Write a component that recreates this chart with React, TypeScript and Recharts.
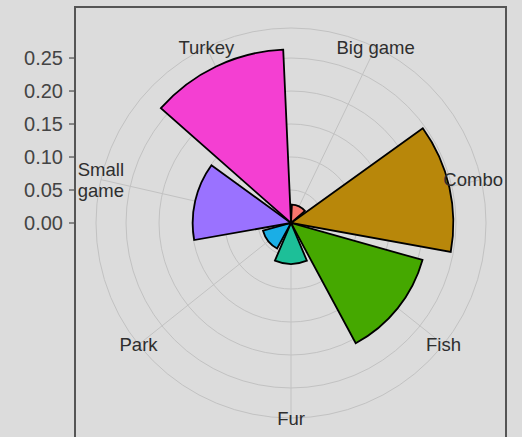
import React from 'react';
import {
    RadialBarChart,
    RadialBar,
    PolarAngleAxis,
    PolarRadiusAxis,
    PolarGrid,
    Cell,
    LineChart,
    YAxis,
} from 'recharts';

// shares of hunting licence types
const categories = ['Big game', 'Combo', 'Fish', 'Fur', 'Park', 'Small\ngame', 'Turkey'];
const shares = [0.028, 0.246, 0.207, 0.062, 0.044, 0.149, 0.263];
const colors = ['#F8766D', '#B8870A', '#45A800', '#1DBF98', '#1AAEE6', '#9A72FF', '#F43FD2'];
const axisTicks = [0, 0.05, 0.1, 0.15, 0.2, 0.25];
// ggplot draws one extra ring where the theta labels sit
const RMAX = 0.2955;
const gridTicks = [0.05, 0.1, 0.15, 0.2, 0.25, RMAX];

// numeric slot per category so the bars sit centred on the angle ticks
const slots = categories.map((_, i) => i);
const data = categories.map((name, i) => ({ name, slot: slots[i], value: shares[i] }));

const PANEL_W = 429;
const CX = 215;
const CY = 215;
const OUTER = 195;
const HALF_SLICE = 180 / categories.length;
const FONT = 18.5;

const AngleTick = (props: any) => {
    const { x, y, payload } = props;
    const dx = x - CX;
    const dy = y - CY;
    const d = Math.hypot(dx, dy) || 1;
    let px = CX + (dx / d) * OUTER;
    const py = CY + (dy / d) * OUTER;
    const label = categories[payload.value] ?? '';
    const lines = label.split('\n');
    const lh = 21;
    // keep labels inside the panel instead of clipping them
    const approxW = Math.max(...lines.map((l) => l.length)) * FONT * 0.56;
    let anchor: 'middle' | 'end' = 'middle';
    if (px + approxW / 2 > PANEL_W - 2) {
        px = PANEL_W - 2;
        anchor = 'end';
    }
    return (
        <text
            x={px}
            y={py}
            textAnchor={anchor}
            fill="#2E2E2E"
            fontSize={FONT}
            fontFamily="Liberation Sans, Arial, sans-serif"
        >
            {lines.map((l, i) => (
                <tspan
                    key={i}
                    x={px}
                    dy={i === 0 ? -((lines.length - 1) * lh) / 2 + 6.5 : lh}
                >
                    {l}
                </tspan>
            ))}
        </text>
    );
};

export default function App() {
    return (
        <div
            style={{
                position: 'absolute',
                left: 0,
                top: 0,
                width: 522,
                height: 437,
                background: '#DCDCDC',
                overflow: 'hidden',
            }}
        >
            <div style={{ position: 'absolute', left: 0, top: 0 }}>
                <LineChart
                    width={80}
                    height={437}
                    data={data}
                    margin={{ top: 28, right: 0, bottom: 214, left: 0 }}
                >
                    <YAxis
                        type="number"
                        domain={[0, RMAX]}
                        ticks={axisTicks}
                        allowDataOverflow
                        width={75}
                        axisLine={false}
                        tickSize={6}
                        tickMargin={6}
                        tickLine={{ stroke: '#4D4D4D', strokeWidth: 1.2 }}
                        tick={{
                            fill: '#444444',
                            fontSize: 20,
                            fontFamily: 'Liberation Sans, Arial, sans-serif',
                        }}
                        tickFormatter={(v: number) => v.toFixed(2)}
                    />
                </LineChart>
            </div>
            <div
                style={{
                    position: 'absolute',
                    left: 74,
                    top: 6,
                    width: PANEL_W + 4,
                    height: 450,
                    border: '2px solid #555555',
                    boxSizing: 'border-box',
                    overflow: 'hidden',
                }}
            >
                <RadialBarChart
                    width={PANEL_W}
                    height={446}
                    data={data}
                    layout="centric"
                    cx={CX}
                    cy={CY}
                    innerRadius={0}
                    outerRadius={OUTER}
                    startAngle={90 - HALF_SLICE}
                    endAngle={-270 - HALF_SLICE}
                    barCategoryGap="5%"
                    margin={{ top: 0, right: 0, bottom: 0, left: 0 }}
                >
                    <PolarGrid gridType="circle" stroke="#C2C2C2" strokeWidth={1} />
                    <PolarAngleAxis
                        type="number"
                        dataKey="slot"
                        domain={[0, categories.length]}
                        ticks={slots}
                        tick={<AngleTick />}
                        tickLine={false}
                        axisLine={false}
                    />
                    <PolarRadiusAxis
                        type="number"
                        domain={[0, RMAX]}
                        ticks={gridTicks}
                        tick={false}
                        axisLine={false}
                    />
                    <RadialBar
                        dataKey="value"
                        stroke="#000000"
                        strokeWidth={1.8}
                        isAnimationActive={false}
                    >
                        {data.map((d, i) => (
                            <Cell key={d.name} fill={colors[i]} />
                        ))}
                    </RadialBar>
                </RadialBarChart>
            </div>
        </div>
    );
}
